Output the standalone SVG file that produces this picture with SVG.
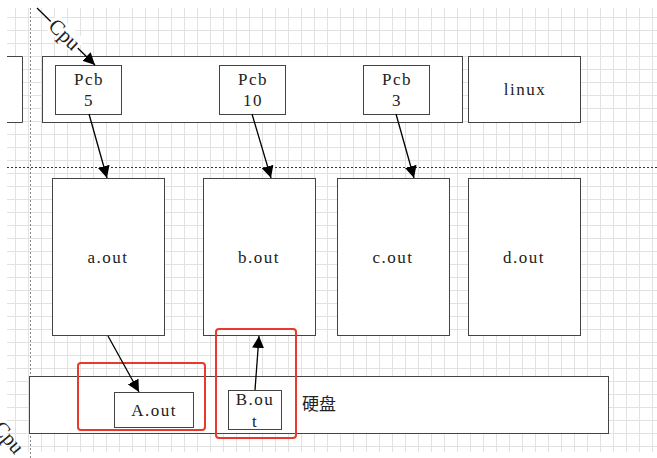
<svg xmlns="http://www.w3.org/2000/svg" width="657" height="458" viewBox="0 0 657 458">
<defs>
<pattern id="grid" x="2" y="4" width="13" height="13" patternUnits="userSpaceOnUse">
<path d="M0.5 0V13M0 0.5H13" fill="none" stroke="#e2e2e2" stroke-width="1"/>
</pattern>
<marker id="arr" viewBox="0 0 10 10" refX="10" refY="5" markerWidth="12" markerHeight="12" markerUnits="userSpaceOnUse" orient="auto">
<path d="M0 0L10 5L0 10Z" fill="#000"/>
</marker>
</defs>
<style>
.box{fill:#fff;stroke:#444;stroke-width:1}
.lbl{font-family:"Liberation Serif","Noto Sans CJK SC",serif;font-size:17px;fill:#222;text-anchor:middle;letter-spacing:1.5px}
.cjk{font-family:"Noto Sans CJK SC",serif;font-size:17px;fill:#222}
.cpu{font-family:"Liberation Serif",serif;font-size:21px;fill:#222;text-anchor:middle}
.conn{stroke:#000;stroke-width:1.3;fill:none;marker-end:url(#arr)}
.red{fill:none;stroke:#e8392b;stroke-width:2}
</style>
<rect width="657" height="458" fill="#fff"/>
<rect x="7" y="8" width="650" height="444" fill="url(#grid)"/>
<line x1="30.5" y1="8" x2="30.5" y2="458" stroke="#888" stroke-dasharray="2,2"/>
<line x1="7" y1="167.5" x2="657" y2="167.5" stroke="#333" stroke-dasharray="2,2"/>

<g id="left-partial"><path d="M7 56.5H22.5V122.5H7" fill="#fff" stroke="#444"/></g>
<g id="memory-top"><rect class="box" x="42.5" y="56.5" width="420" height="66"/></g>
<g id="pcb5"><rect class="box" x="55.5" y="65.5" width="66" height="49"/><text class="lbl" x="89" y="85">Pcb</text><text class="lbl" x="89" y="106">5</text></g>
<g id="pcb10"><rect class="box" x="219.5" y="65.5" width="66" height="49"/><text class="lbl" x="253" y="85">Pcb</text><text class="lbl" x="253" y="106">10</text></g>
<g id="pcb3"><rect class="box" x="363.5" y="65.5" width="66" height="49"/><text class="lbl" x="397" y="85">Pcb</text><text class="lbl" x="397" y="106">3</text></g>
<g id="linux"><rect class="box" x="468.5" y="56.5" width="112" height="66"/><text class="lbl" x="525" y="95">linux</text></g>

<g id="a-out"><rect class="box" x="52.5" y="178.5" width="112" height="157"/><text class="lbl" x="108" y="263">a.out</text></g>
<g id="b-out"><rect class="box" x="203.5" y="178.5" width="112" height="157"/><text class="lbl" x="259" y="263">b.out</text></g>
<g id="c-out"><rect class="box" x="337.5" y="178.5" width="112" height="157"/><text class="lbl" x="393" y="263">c.out</text></g>
<g id="d-out"><rect class="box" x="468.5" y="178.5" width="112" height="157"/><text class="lbl" x="524" y="263">d.out</text></g>

<g id="disk"><rect class="box" x="29.5" y="376.5" width="579" height="57"/><text class="cjk" x="302" y="410">硬盘</text></g>
<g id="A-out"><rect class="box" x="114.5" y="392.5" width="79" height="35"/><text class="lbl" x="154" y="416">A.out</text></g>
<g id="B-out"><rect class="box" x="228.5" y="390.5" width="53" height="39"/><text class="lbl" x="255" y="405">B.ou</text><text class="lbl" x="255" y="427">t</text></g>

<g id="highlights">
<rect class="red" x="78" y="363" width="127" height="67" rx="3"/>
<rect class="red" x="216" y="329" width="80" height="109" rx="3"/>
</g>

<g id="connectors">
<line class="conn" x1="37" y1="8" x2="95" y2="65"/>
<line class="conn" x1="89" y1="114" x2="107" y2="178"/>
<line class="conn" x1="252" y1="114" x2="271" y2="178"/>
<line class="conn" x1="396" y1="114" x2="414" y2="178"/>
<line class="conn" x1="108" y1="336" x2="139" y2="392"/>
<line class="conn" x1="255" y1="390" x2="259" y2="336"/>
<g transform="translate(64 35) rotate(44)">
<rect x="-19" y="-11" width="38" height="19" fill="#fff"/>
<text class="cpu" x="0" y="6">Cpu</text>
</g>
<g transform="translate(8 438) rotate(50)">
<text class="cpu" x="0" y="6">Cpu</text>
</g>
</g>
</svg>
